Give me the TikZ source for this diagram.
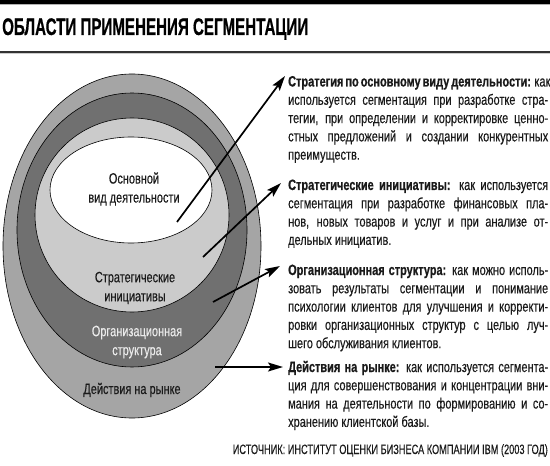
\documentclass[tikz,border=0pt]{standalone}
\usepackage{fontspec}
\setmainfont{Liberation Sans}[FakeStretch=0.73,
  UprightFeatures={FakeBold=0.25},
  BoldFeatures={FakeBold=0.6}]
\usetikzlibrary{arrows.meta}
\definecolor{ringA}{HTML}{A5A5A5}
\definecolor{ringB}{HTML}{707070}
\definecolor{ringC}{HTML}{CBCBCB}
\definecolor{txt}{HTML}{1A1A1A}
\newcommand\jline[1]{\noindent\makebox[\linewidth][s]{#1}\par}
\newcommand\lline[1]{\noindent #1\par}
\tikzset{
  ring/.style={draw=black, line width=0.6bp},
  blocktext/.style={anchor=base west, inner sep=0pt, text=txt,
    font=\fontsize{15bp}{18.3bp}\selectfont},
  ringlabel/.style={align=center, inner sep=0pt, text=txt,
    font=\fontsize{15bp}{19bp}\selectfont},
  pointer/.style={line width=1.7bp, -{Stealth[length=15bp,width=9bp,inset=3bp]}},
}
\newcommand\blk[1]{\parbox[t]{260bp}{\baselineskip=18.3bp\parskip=0pt\parindent=0pt #1}}
\begin{document}
\begin{tikzpicture}[x=1bp,y=-1bp]
\useasboundingbox (0,0) rectangle (550,466);
\fill[white] (0,0) rectangle (550,466);
% top bars
\fill[black] (0,0) rectangle (550,4);
\fill[gray!60] (0,4) rectangle (550,5.2);
\fill[black!80] (0,51.5) rectangle (550,53.2);
\fill[gray!40] (0,53.2) rectangle (550,54.5);
% title
\node[anchor=base west, inner sep=0pt] (title) at (2,35)
  {\resizebox{306bp}{\height}{\fontsize{24bp}{24bp}\selectfont\bfseries ОБЛАСТИ ПРИМЕНЕНИЯ СЕГМЕНТАЦИИ}};
% rings
\filldraw[ring, fill=ringA] (132,246) ellipse [x radius=129, y radius=172];
\filldraw[ring, fill=ringB] (132,230) ellipse [x radius=115, y radius=137];
\filldraw[ring, fill=ringC] (132,215) ellipse [x radius=97, y radius=97];
\filldraw[ring, fill=white] (131,190) ellipse [x radius=81, y radius=53];
% ring labels
\node[ringlabel] (core) at (134,189) {Основной\\вид деятельности};
\node[ringlabel] (strat) at (135,288) {Стратегические\\инициативы};
\node[ringlabel, text=white!92!black] (org) at (137,342) {Организационная\\структура};
\node[ringlabel] (market) at (132,390) {Действия на рынке};
% arrows
\coordinate (s1) at (177,222); \coordinate (e1) at (285,76);
\coordinate (s2) at (203,257); \coordinate (e2) at (281,183);
\coordinate (s3) at (213,302); \coordinate (e3) at (280,266);
\coordinate (s4) at (215,367); \coordinate (e4) at (283,367);
\draw[pointer] (s1) -- (e1);
\draw[pointer] (s2) -- (e2);
\draw[pointer] (s3) -- (e3);
\draw[pointer] (s4) -- (e4);
% text blocks
\node[blocktext] (t1) at (288,86.5) {\blk{%
\jline{\textbf{Стратегия по основному виду деятельности:} как}
\jline{используется сегментация при разработке стра-}
\jline{тегии, при определении и корректировке ценно-}
\jline{стных предложений и создании конкурентных}
\lline{преимуществ.}}};
\node[blocktext] (t2) at (288,190) {\blk{%
\jline{\textbf{Стратегические инициативы:} как используется}
\jline{сегментация при разработке финансовых пла-}
\jline{нов, новых товаров и услуг и при анализе от-}
\lline{дельных инициатив.}}};
\node[blocktext] (t3) at (288,275) {\blk{%
\jline{\textbf{Организационная структура:} как можно исполь-}
\jline{зовать результаты сегментации и понимание}
\jline{психологии клиентов для улучшения и корректи-}
\jline{ровки организационных структур с целью луч-}
\lline{шего обслуживания клиентов.}}};
\node[blocktext] (t4) at (288,372) {\blk{%
\jline{\textbf{Действия на рынке:} как используется сегмента-}
\jline{ция для совершенствования и концентрации вни-}
\jline{мания на деятельности по формированию и со-}
\lline{хранению клиентской базы.}}};
% source
\node[anchor=base east, inner sep=0pt, text=txt] (src) at (548,454)
  {\resizebox{315bp}{\height}{\fontsize{13.5bp}{13.5bp}\selectfont ИСТОЧНИК: ИНСТИТУТ ОЦЕНКИ БИЗНЕСА КОМПАНИИ IBM (2003 ГОД)}};
\end{tikzpicture}
\end{document}
